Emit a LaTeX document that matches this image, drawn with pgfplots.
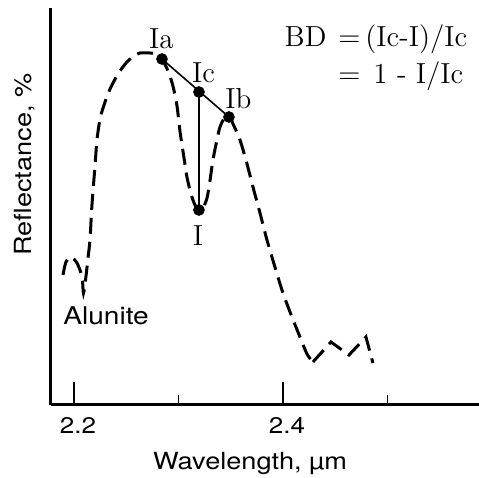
\documentclass[border=0pt]{standalone}
\usepackage{fontspec}
\usepackage{pgfplots}
\pgfplotsset{compat=1.18}
\newfontfamily\sansf[FakeStretch=1.15]{TeX Gyre Heros}
\begin{document}
\begin{tikzpicture}
\begin{axis}[
  scale only axis, width=214pt, height=198.5pt,
  xmin=2.178, xmax=2.5876, ymin=1, ymax=398,
  axis x line=bottom, axis y line=left,
  axis line style={-, line width=1.5pt},
  xtick={2.2,2.4}, xticklabels={2.2,2.4},
  minor xtick={2.3,2.5},
  ytick=\empty,
  tick align=inside,
  major tick length=11.5pt, minor tick length=5pt,
  every tick/.style={black, line width=0.8pt},
  xticklabel style={font=\sansf\fontsize{11.3}{13}\selectfont, xshift=2pt, yshift=-2.5pt},
  xlabel={Wavelength, µm},
  xlabel style={font=\sansf\fontsize{11.8}{13}\selectfont, at={(axis description cs:0.465,-0.163)}, anchor=base},
  ylabel={Reflectance, \%},
  ylabel style={font=\sansf\fontsize{11.8}{13}\selectfont, at={(axis description cs:-0.0456,0.605)}, anchor=base, rotate=0},
  clip=false,
]
% main spectrum (smooth part)
\addplot[black, line width=1.5pt, dash pattern=on 8pt off 4pt, smooth, tension=0.5] coordinates {
(2.1895,131) (2.1923,144) (2.1971,149) (2.2029,143) (2.2077,129) (2.2091,113)
(2.2115,130) (2.2134,148) (2.2153,166) (2.2172,201) (2.2201,240) (2.2220,266)
(2.2249,287) (2.2278,298) (2.2325,312) (2.2373,323) (2.2440,335) (2.2507,344)
(2.2574,350) (2.2632,353) (2.2727,353) (2.2794,352) (2.2842,347) (2.2900,335)
(2.2947,320) (2.2986,300) (2.3014,275) (2.3053,248) (2.3081,229) (2.3120,212)
(2.3158,201) (2.3196,196) (2.3234,198) (2.3273,208) (2.3301,225) (2.3330,246)
(2.3368,266) (2.3397,279) (2.3435,287) (2.3483,290) (2.3531,280) (2.3589,266)
(2.3656,242) (2.3713,219) (2.3780,193) (2.3847,166) (2.3923,139) (2.4000,113)
(2.4086,89) (2.4163,69) (2.4230,52) (2.4287,44)
};
% tail (zigzag)
\addplot[black, line width=1.5pt, dash pattern=on 8pt off 4pt] coordinates {
(2.4287,44) (2.4459,64) (2.4632,51) (2.4794,69) (2.4861,43)
};
% continuum line and band depth
\addplot[black, line width=0.8pt] coordinates {(2.2842,347) (2.3483,289)};
\addplot[black, line width=0.8pt] coordinates {(2.3196,314) (2.3196,196)};
\addplot[black, only marks, mark=*, mark size=2.7pt] coordinates {
(2.2842,347) (2.3196,314) (2.3483,289) (2.3196,196)
};
% labels
\begin{scope}[font=\fontsize{14.5}{16}\selectfont, inner sep=0pt]
\node[anchor=base] at (axis cs:2.2837,358) {Ia};
\node[anchor=base] at (axis cs:2.3239,324) {Ic};
\node[anchor=base] at (axis cs:2.3574,298) {Ib};
\node[anchor=base] at (axis cs:2.3187,161) {I};
\node[anchor=base east] at (axis cs:2.4526,360) {BD\kern5.5pt};
\node[anchor=base west] at (axis cs:2.4526,360) {=\kern2.5pt(Ic-I)/Ic};
\node[anchor=base west] at (axis cs:2.4526,323) {=\kern6.5pt1 - I/Ic};
\end{scope}
\node[anchor=base west, inner sep=0pt, font=\sansf\fontsize{12.2}{14}\selectfont] at (axis cs:2.1895,81) {Alunite};
\end{axis}
\pgfresetboundingbox
\path[use as bounding box] ([xshift=-25.5pt,yshift=-36.5pt]current axis.south west) rectangle ([yshift=4pt]current axis.north east);
\end{tikzpicture}
\end{document}
